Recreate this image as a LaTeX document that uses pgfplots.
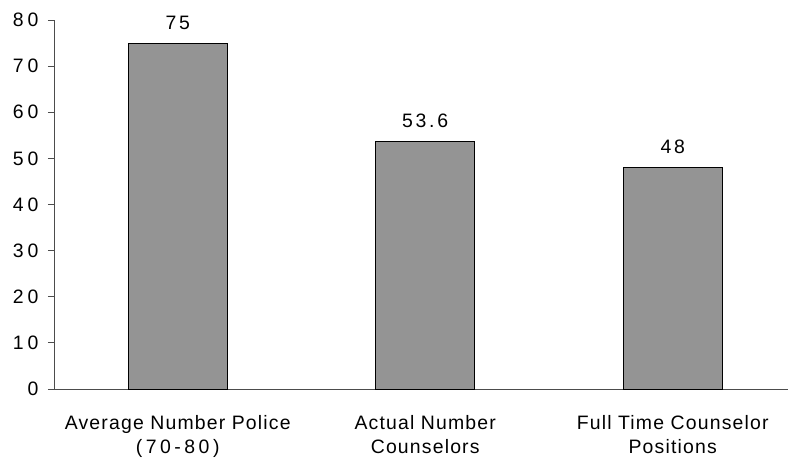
\documentclass[border=0pt]{standalone}
\usepackage{pgfplots}
\pgfplotsset{compat=1.18}
\usepackage{fontspec}
\setmainfont{Liberation Sans}
\newfontfamily\numfont[LetterSpace=20]{Liberation Sans}
\newfontfamily\valfont[LetterSpace=14]{Liberation Sans}
\newfontfamily\txtfont[LetterSpace=6]{Liberation Sans}
\newfontfamily\partxtfont[LetterSpace=18]{Liberation Sans}
\begin{document}
\begin{tikzpicture}
\begin{axis}[
  scale only axis,
  width=734bp, height=369bp,
  xmin=-0.5, xmax=2.466,
  ymin=0, ymax=80,
  ytick={0,10,...,80},
  xtick={0,1,2},
  xticklabels={{Average Number Police\\\partxtfont(70-80)},{Actual Number\\Counselors},{Full Time Counselor\\Positions}},
  xticklabel style={align=center, font=\fontsize{19.5}{24}\selectfont\txtfont, yshift=-17bp},
  extra x ticks={-0.5,0.5,1.5},
  extra x tick labels={},
  extra x tick style={major tick length=6bp, tick style={black!70, line width=1pt}},
  major x tick style={draw=none},
  yticklabel style={font=\fontsize{19.5}{21}\selectfont\numfont, xshift=-6bp},
  tick align=outside,
  major tick length=6bp,
  ytick style={black!70, line width=1pt},
  axis x line*=bottom,
  axis y line*=left,
  axis line style={black!70, line width=1pt, -},
  ybar, bar width=99bp,
  nodes near coords,
  every node near coord/.append style={font=\fontsize{19.5}{21}\selectfont\valfont, black, yshift=10bp},
  nodes near coords style={/pgf/number format/.cd, fixed, precision=1, assume math mode=true},
  /pgf/number format/assume math mode=true,
  clip=false,
]
\addplot[fill=black!42, draw=black, line width=0.8pt] coordinates {(0,75) (1,53.6) (2,48)};
\end{axis}
\pgfresetboundingbox
\path (-54bp,-71bp) rectangle (734bp,389bp);
\end{tikzpicture}
\end{document}
